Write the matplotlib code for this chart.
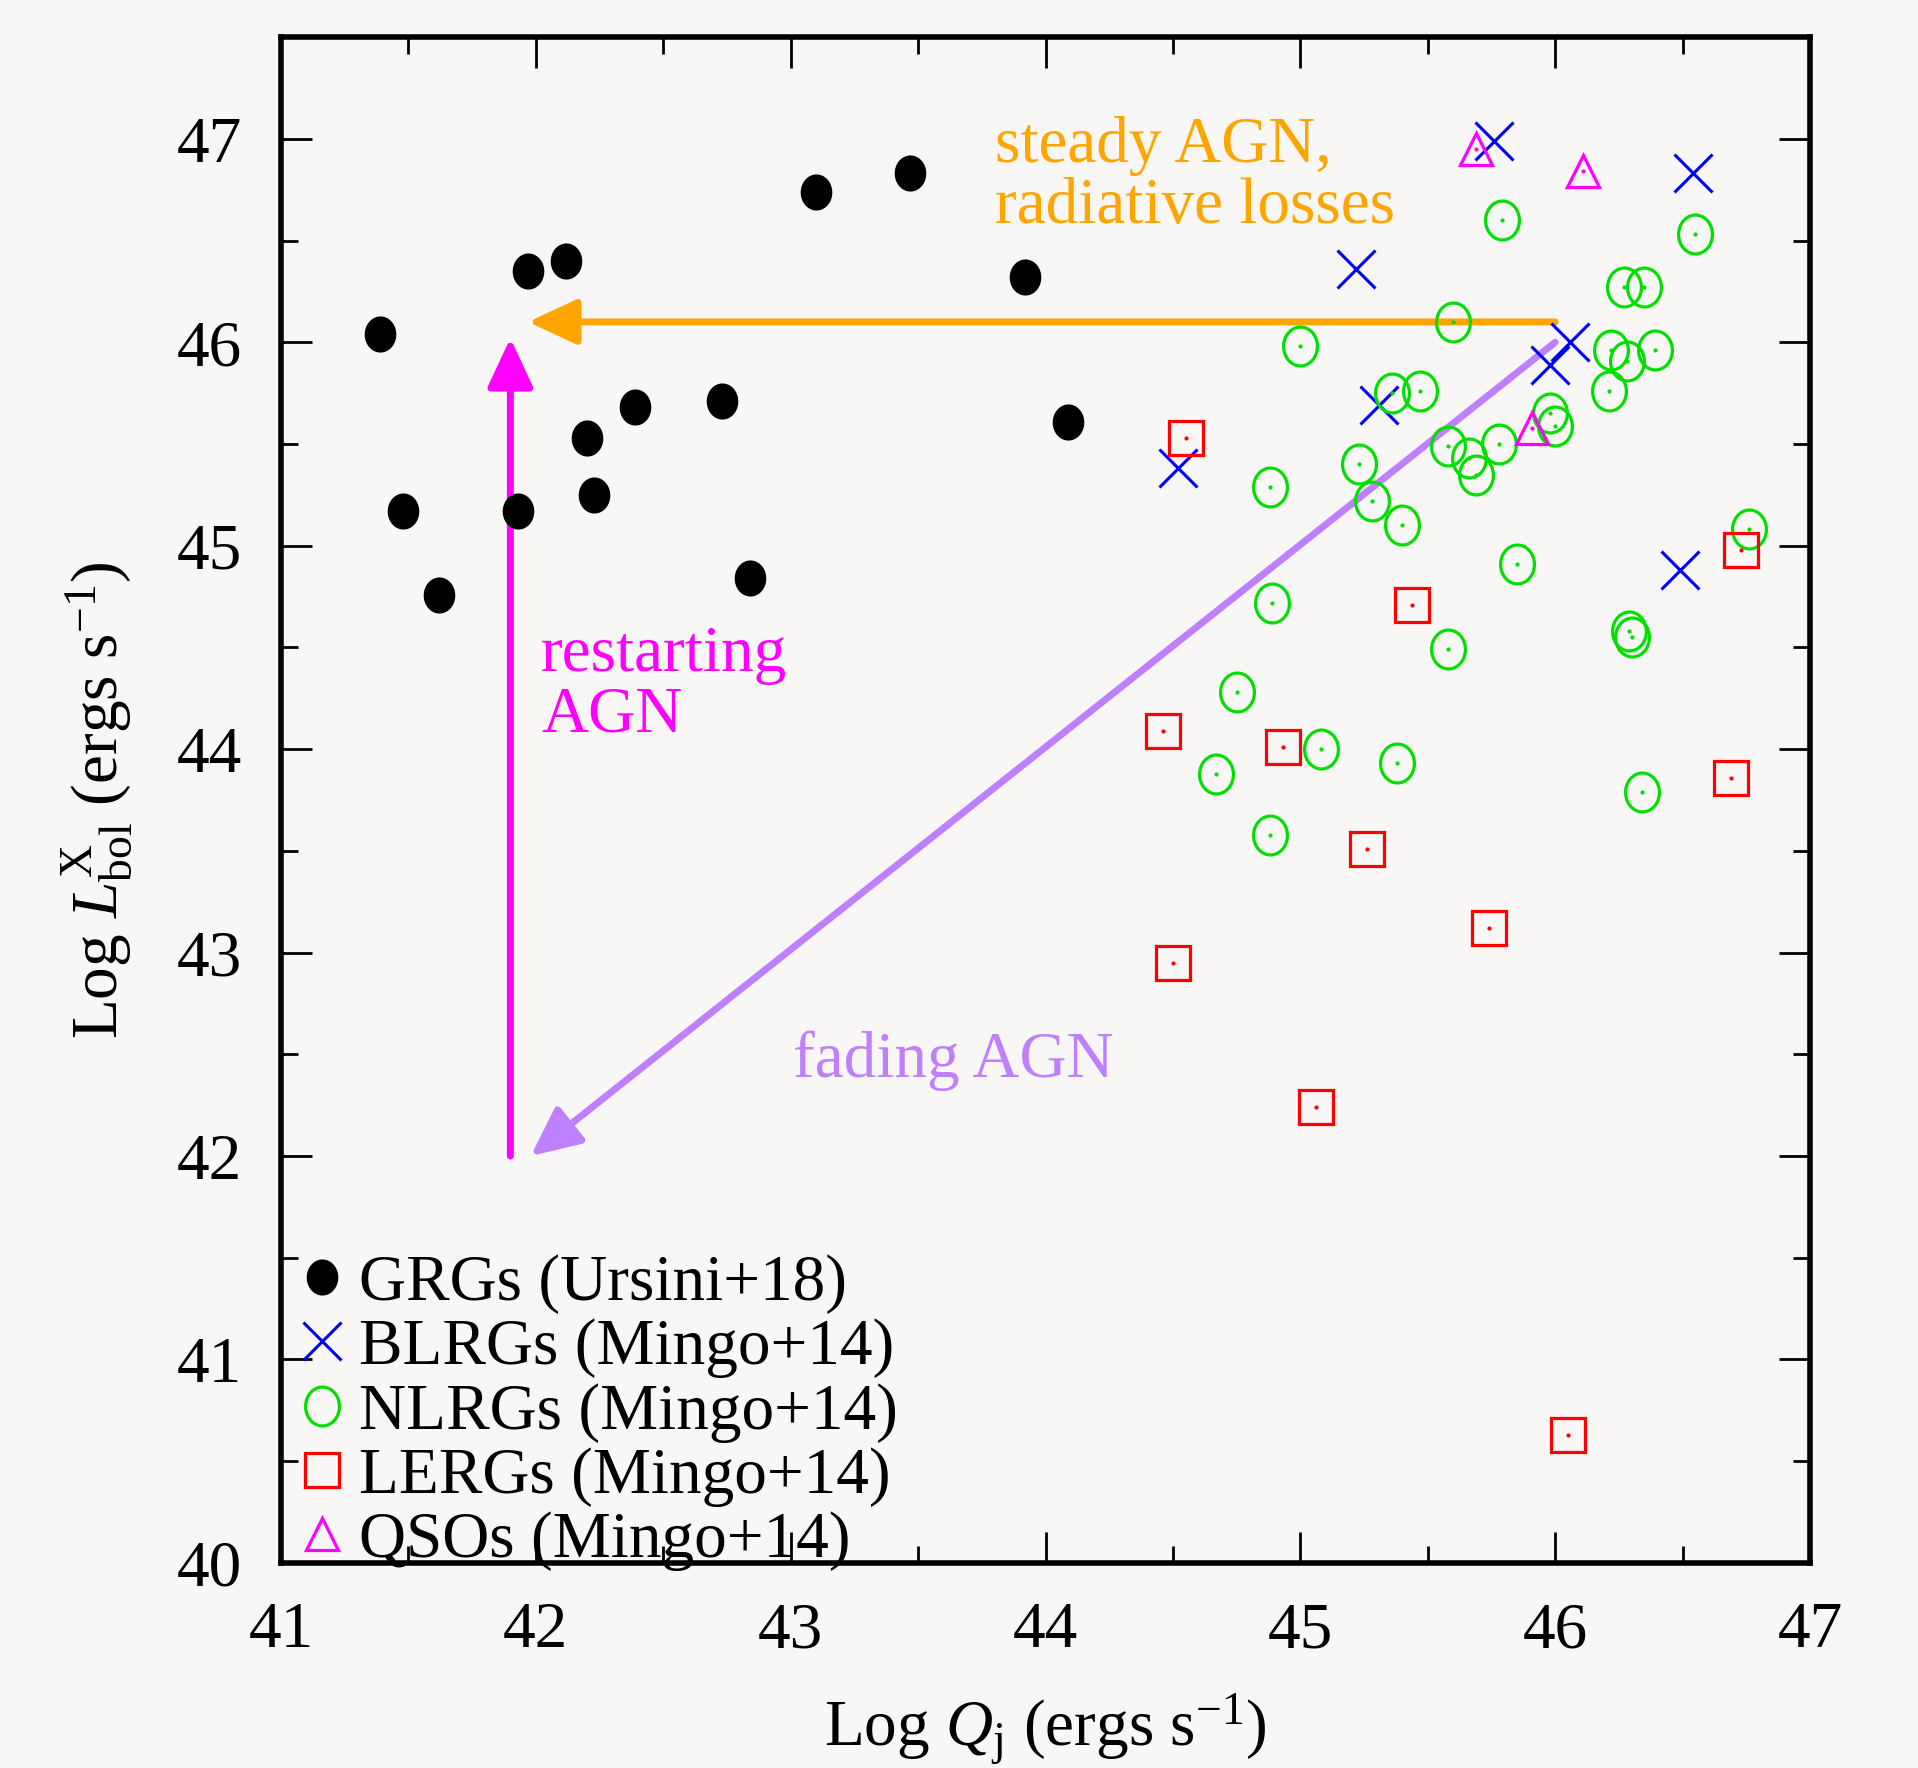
import numpy as np
import matplotlib
matplotlib.use("Agg")
import matplotlib.pyplot as plt
from matplotlib.path import Path

# ---------------- data ----------------
grg_x = [41.39, 41.48, 41.62, 41.93, 41.97, 42.12, 42.20, 42.23, 42.39, 42.73, 42.84, 43.10, 43.47, 43.92, 44.09]
grg_y = [46.04, 45.17, 44.76, 45.17, 46.35, 46.40, 45.53, 45.25, 45.68, 45.71, 44.84, 46.74, 46.83, 46.32, 45.61]

blrg_x = [45.76, 46.54, 45.22, 46.06, 45.98, 45.31, 44.52, 46.49]
blrg_y = [46.99, 46.83, 46.36, 46.00, 45.89, 45.69, 45.38, 44.88]

nlrg_x = [45.79, 46.55, 45.60, 45.00, 46.27, 46.35, 46.22, 46.28, 46.39, 46.21, 45.36, 45.47,
          45.98, 46.00, 45.58, 45.78, 45.66, 45.69, 45.23, 45.28, 44.88, 45.40, 46.76, 45.85,
          44.89, 45.58, 46.29, 46.30, 44.75, 45.08, 44.67, 45.38, 46.34, 44.88]
nlrg_y = [46.60, 46.53, 46.10, 45.98, 46.27, 46.27, 45.96, 45.91, 45.96, 45.76, 45.75, 45.76,
          45.65, 45.59, 45.49, 45.50, 45.43, 45.35, 45.40, 45.22, 45.29, 45.10, 45.08, 44.91,
          44.72, 44.49, 44.58, 44.55, 44.28, 44.00, 43.88, 43.93, 43.79, 43.58]

lerg_x = [44.55, 46.73, 45.44, 44.46, 44.93, 46.69, 45.26, 45.74, 44.50, 45.06, 46.05]
lerg_y = [45.53, 44.98, 44.71, 44.09, 44.01, 43.86, 43.51, 43.12, 42.95, 42.24, 40.63]

qso_x = [45.69, 46.11, 45.91]
qso_y = [46.95, 46.84, 45.58]

x_ticks = [41, 42, 43, 44, 45, 46, 47]
y_ticks = [40, 41, 42, 43, 44, 45, 46, 47]

# arrows: (start, end)
steady_arrow = ((46.0, 46.1), (41.97, 46.1))
restart_arrow = ((41.9, 42.0), (41.9, 46.02))
fading_arrow = ((46.0, 46.0), (41.98, 42.0))

# ---------------- style ----------------
BG = "#f8f7f5"
plt.rcParams["font.family"] = ["Liberation Serif", "DejaVu Serif"]
plt.rcParams["mathtext.fontset"] = "custom"
plt.rcParams["mathtext.rm"] = "Liberation Serif"
plt.rcParams["mathtext.it"] = "Liberation Serif:italic"
FS = 47

fig = plt.figure(figsize=(19.18, 17.68), dpi=100, facecolor=BG)
ax = fig.add_axes([0.1465, 0.1160, 0.9437 - 0.1465, 0.979 - 0.1160])
ax.set_facecolor(BG)

# slightly tall ellipse marker (as in the reference)
t = np.linspace(0, 2 * np.pi, 61)
ell = Path(np.column_stack([0.87 * np.cos(t), np.sin(t)]), closed=True)

ax.plot(grg_x, grg_y, ls="none", marker=ell, ms=25, mfc="black", mec="black",
        label="GRGs (Ursini+18)", zorder=5)
ax.plot(blrg_x, blrg_y, ls="none", marker="x", ms=27, mew=2.2, color="#0000ff",
        label="BLRGs (Mingo+14)", zorder=5)
ax.plot(nlrg_x, nlrg_y, ls="none", marker=ell, ms=28, mew=2.3, mfc="none", mec="#00e000",
        label="NLRGs (Mingo+14)", zorder=5)
ax.plot(nlrg_x, nlrg_y, ls="none", marker="o", ms=2, color="#00e000", zorder=5)
ax.plot(lerg_x, lerg_y, ls="none", marker="s", ms=25, mew=2.3, mfc="none", mec="#ff0000",
        label="LERGs (Mingo+14)", zorder=5)
ax.plot(lerg_x, lerg_y, ls="none", marker="o", ms=2, color="#ff0000", zorder=5)
ax.plot(qso_x, qso_y, ls="none", marker="^", ms=23, mew=2.3, mfc="none", mec="#ff00ff",
        label="QSOs (Mingo+14)", zorder=5)
ax.plot(qso_x, qso_y, ls="none", marker="o", ms=2, color="#ff00ff", zorder=5)

def arrow(se, color):
    (x0, y0), (x1, y1) = se
    ax.annotate("", xy=(x1, y1), xytext=(x0, y0),
                arrowprops=dict(arrowstyle="-|>,head_length=3.0,head_width=1.4",
                                mutation_scale=10, lw=5, color=color,
                                shrinkA=0, shrinkB=0), zorder=4)

arrow(steady_arrow, "#ffa500")
arrow(restart_arrow, "#ff00ff")
arrow(fading_arrow, "#bf80ff")

ax.text(43.80, 46.886, "steady AGN,", color="#ffa500", fontsize=FS, va="baseline", ha="left")
ax.text(43.80, 46.585, "radiative losses", color="#ffa500", fontsize=FS, va="baseline", ha="left")
ax.text(42.02, 44.386, "restarting", color="#ff00ff", fontsize=FS, va="baseline", ha="left")
ax.text(42.02, 44.086, "AGN", color="#ff00ff", fontsize=FS, va="baseline", ha="left")
ax.text(43.01, 42.39, "fading AGN", color="#bf80ff", fontsize=FS, va="baseline", ha="left")

ax.set_xlim(41, 47)
ax.set_ylim(40, 47.5)
ax.set_xticks(x_ticks)
ax.set_yticks(y_ticks)
ax.set_xticks(np.arange(41.5, 47, 1.0), minor=True)
ax.set_yticks(np.arange(40.5, 47.5, 1.0), minor=True)
ax.tick_params(which="both", direction="in", top=True, right=True, labelsize=FS, width=2)
ax.tick_params(which="major", length=22)
ax.tick_params(which="minor", length=12)
ax.tick_params(axis="x", which="major", pad=28)
ax.tick_params(axis="y", which="major", pad=28)
for s in ax.spines.values():
    s.set_linewidth(4)

ax.set_xlabel(r"Log $Q_{\rm j}$ (ergs s$^{-1}$)", fontsize=FS, labelpad=22)
ax.set_ylabel(r"Log $L^{\rm X}_{\rm bol}$ (ergs s$^{-1}$)", fontsize=FS, labelpad=30)

leg = ax.legend(loc="lower left", bbox_to_anchor=(-0.014, -0.031), frameon=False,
                fontsize=FS, handlelength=0.7, handletextpad=0.22, labelspacing=0.07,
                borderaxespad=0.2)

fig.savefig("out.png", dpi=100, facecolor=BG)
